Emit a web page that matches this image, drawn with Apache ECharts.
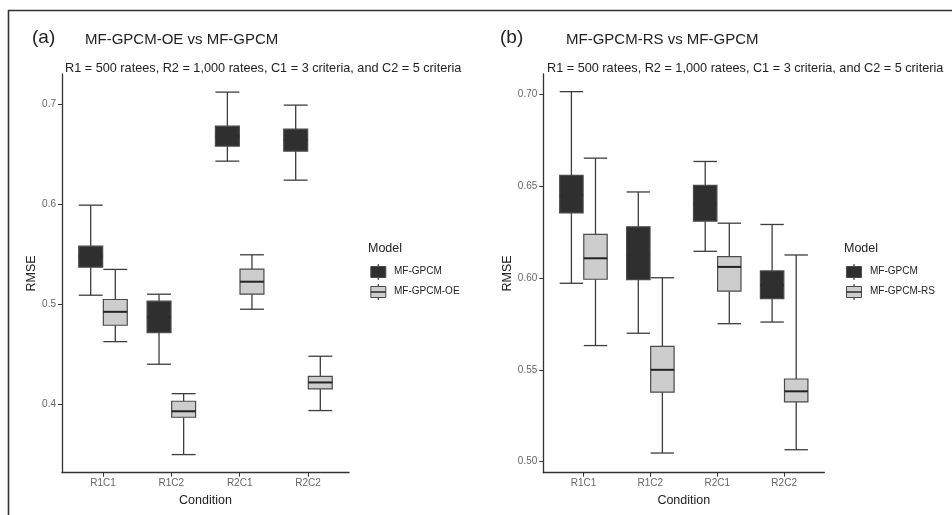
<!DOCTYPE html>
<html>
<head>
<meta charset="utf-8">
<script src="https://cdn.jsdelivr.net/npm/echarts@6/dist/echarts.min.js"></script>
<style>
  html, body { margin: 0; padding: 0; background: #fff; }
  #chart { width: 952px; height: 515px; }
</style>
</head>
<body>
<div id="chart"></div>
<script>
// categories on the x axis
const conditions = ["R1C1", "R1C2", "R2C1", "R2C2"];
// box stats per condition: [lower whisker, Q1, median, Q3, upper whisker]
const oeGpcm = [
  [0.509, 0.537, 0.548, 0.558, 0.599],
  [0.440, 0.4715, 0.487, 0.503, 0.510],
  [0.643, 0.658, 0.668, 0.678, 0.712],
  [0.624, 0.653, 0.664, 0.675, 0.699],
];
const oeModel = [
  [0.4626, 0.479, 0.4924, 0.5047, 0.5348],
  [0.3497, 0.387, 0.393, 0.403, 0.4106],
  [0.495, 0.510, 0.5225, 0.535, 0.5494],
  [0.3937, 0.4153, 0.4218, 0.4278, 0.448],
];
const rsGpcm = [
  [0.5971, 0.6354, 0.645, 0.6558, 0.7014],
  [0.5699, 0.5991, 0.612, 0.6278, 0.6468],
  [0.6145, 0.6309, 0.640, 0.6504, 0.6634],
  [0.576, 0.5887, 0.596, 0.6038, 0.6291],
];
const rsModel = [
  [0.5632, 0.5993, 0.6107, 0.6237, 0.6652],
  [0.5047, 0.5379, 0.55, 0.5628, 0.6001],
  [0.5751, 0.5928, 0.606, 0.6116, 0.6298],
  [0.5065, 0.5325, 0.5383, 0.545, 0.6125],
];
// y tick labels
const ticksA = [0.4, 0.5, 0.6, 0.7];
const ticksB = [0.5, 0.55, 0.6, 0.65, 0.7];

const DARK = "#2f2f2f";
const LIGHT = "#cdcdcd";
const LINE = "#3d3d3d";
const halfW = 0.175;

function toRows(stats) {
  return stats.map((s, i) => [i + 1].concat(s));
}

// draws one ggplot-like box with error bar whiskers
function boxRenderer(offset, fill, medColor) {
  return function (params, api) {
    const x = api.value(0) + offset;
    const lo = api.value(1), q1 = api.value(2), med = api.value(3), q3 = api.value(4), hi = api.value(5);
    const pLo = api.coord([x, lo]);
    const pHi = api.coord([x, hi]);
    const pQ1 = api.coord([x, q1]);
    const pQ3 = api.coord([x, q3]);
    const pMed = api.coord([x, med]);
    const xl = api.coord([x - halfW, q1])[0];
    const xr = api.coord([x + halfW, q1])[0];
    const lineStyle = { stroke: LINE, lineWidth: 1.3 };
    return {
      type: "group",
      children: [
        { type: "line", shape: { x1: pHi[0], y1: pHi[1], x2: pQ3[0], y2: pQ3[1] }, style: lineStyle },
        { type: "line", shape: { x1: pLo[0], y1: pLo[1], x2: pQ1[0], y2: pQ1[1] }, style: lineStyle },
        { type: "line", shape: { x1: xl, y1: pHi[1], x2: xr, y2: pHi[1] }, style: lineStyle },
        { type: "line", shape: { x1: xl, y1: pLo[1], x2: xr, y2: pLo[1] }, style: lineStyle },
        {
          type: "rect",
          shape: { x: xl, y: pQ3[1], width: xr - xl, height: pQ1[1] - pQ3[1] },
          style: { fill: fill, stroke: "#4a4a4a", lineWidth: 1.2 },
        },
        { type: "line", shape: { x1: xl, y1: pMed[1], x2: xr, y2: pMed[1] }, style: { stroke: medColor, lineWidth: 2 } },
      ],
    };
  };
}

function xAxisFor(idx) {
  return {
    type: "value",
    gridIndex: idx,
    min: 0.4,
    max: 4.6,
    axisLine: { show: true, onZero: false, lineStyle: { color: "#333", width: 1.3 } },
    axisTick: { show: true, customValues: [1, 2, 3, 4], length: 4, lineStyle: { color: "#333" } },
    axisLabel: {
      customValues: [1, 2, 3, 4],
      formatter: (v) => conditions[Math.round(v) - 1],
      color: "#666",
      fontSize: 10,
      margin: 6,
    },
    splitLine: { show: false },
    name: "Condition",
    nameLocation: "middle",
    nameGap: 19,
    nameTextStyle: { fontSize: 12.5, color: "#222" },
  };
}

function yAxisFor(idx, min, max, ticks, digits) {
  return {
    type: "value",
    gridIndex: idx,
    min: min,
    max: max,
    axisLine: { show: true, lineStyle: { color: "#333", width: 1.3 } },
    axisTick: { show: true, customValues: ticks, length: 4, lineStyle: { color: "#333" } },
    axisLabel: {
      customValues: ticks,
      formatter: (v) => v.toFixed(digits),
      color: "#666",
      fontSize: 10,
      margin: 6,
    },
    splitLine: { show: false },
    name: "RMSE",
    nameLocation: "middle",
    nameGap: 24,
    nameTextStyle: { fontSize: 12.5, color: "#222" },
  };
}

function legendKeys(x, labelX, second) {
  const kx = x - 7.5, kw = 15;
  const whisk = { stroke: LINE, lineWidth: 1.2 };
  return [
    { type: "text", left: labelX - 26, top: 242, style: { text: "Model", fontSize: 12.5, fill: "#222", fontFamily: "Liberation Sans" } },
    { type: "line", shape: { x1: x, y1: 264, x2: x, y2: 280 }, style: whisk },
    { type: "rect", shape: { x: kx, y: 266.5, width: kw, height: 11 }, style: { fill: DARK, stroke: "#4a4a4a", lineWidth: 1 } },
    { type: "text", left: labelX, top: 266.5, style: { text: "MF-GPCM", fontSize: 10, fill: "#222", fontFamily: "Liberation Sans" } },
    { type: "line", shape: { x1: x, y1: 284, x2: x, y2: 300 }, style: whisk },
    { type: "rect", shape: { x: kx, y: 286.5, width: kw, height: 11 }, style: { fill: LIGHT, stroke: "#4a4a4a", lineWidth: 1 } },
    { type: "line", shape: { x1: kx, y1: 292, x2: kx + kw, y2: 292 }, style: { stroke: "#333", lineWidth: 1.6 } },
    { type: "text", left: labelX, top: 286.5, style: { text: second, fontSize: 10, fill: "#222", fontFamily: "Liberation Sans" } },
  ];
}

const chart = echarts.init(document.getElementById("chart"), null, { renderer: "canvas" });

const option = {
  backgroundColor: "#fff",
  animation: false,
  textStyle: { fontFamily: "Liberation Sans" },
  title: [
    { text: "(a)", left: 32, top: 28, textStyle: { fontSize: 19, fontWeight: "normal", color: "#222" } },
    { text: "MF-GPCM-OE vs MF-GPCM", left: 85, top: 32, textStyle: { fontSize: 15, fontWeight: "normal", color: "#222" } },
    { text: "R1 = 500 ratees, R2 = 1,000 ratees, C1 = 3 criteria, and C2 = 5 criteria", left: 65, top: 62,
      textStyle: { fontSize: 12.7, fontWeight: "normal", color: "#222" } },
    { text: "(b)", left: 500, top: 28, textStyle: { fontSize: 19, fontWeight: "normal", color: "#222" } },
    { text: "MF-GPCM-RS vs MF-GPCM", left: 566, top: 32, textStyle: { fontSize: 15, fontWeight: "normal", color: "#222" } },
    { text: "R1 = 500 ratees, R2 = 1,000 ratees, C1 = 3 criteria, and C2 = 5 criteria", left: 547, top: 62,
      textStyle: { fontSize: 12.7, fontWeight: "normal", color: "#222" } },
  ].map((t) => Object.assign({ padding: 0 }, t)),
  grid: [
    { left: 62, top: 74, width: 287, height: 398.7 },
    { left: 543.3, top: 74, width: 281, height: 398.7 },
  ],
  xAxis: [xAxisFor(0), xAxisFor(1)],
  yAxis: [
    yAxisFor(0, 0.3316, 0.7301, ticksA, 1),
    yAxisFor(1, 0.494, 0.711, ticksB, 2),
  ],
  series: [
    { type: "custom", name: "MF-GPCM", xAxisIndex: 0, yAxisIndex: 0, data: toRows(oeGpcm),
      encode: { x: 0, y: [1, 2, 3, 4, 5] }, renderItem: boxRenderer(-0.18, DARK, DARK) },
    { type: "custom", name: "MF-GPCM-OE", xAxisIndex: 0, yAxisIndex: 0, data: toRows(oeModel),
      encode: { x: 0, y: [1, 2, 3, 4, 5] }, renderItem: boxRenderer(0.18, LIGHT, "#222") },
    { type: "custom", name: "MF-GPCM", xAxisIndex: 1, yAxisIndex: 1, data: toRows(rsGpcm),
      encode: { x: 0, y: [1, 2, 3, 4, 5] }, renderItem: boxRenderer(-0.18, DARK, DARK) },
    { type: "custom", name: "MF-GPCM-RS", xAxisIndex: 1, yAxisIndex: 1, data: toRows(rsModel),
      encode: { x: 0, y: [1, 2, 3, 4, 5] }, renderItem: boxRenderer(0.18, LIGHT, "#222") },
  ],
  graphic: [
    // outer frame of the figure
    { type: "rect", shape: { x: 8.5, y: 10.5, width: 1000, height: 600 }, style: { fill: "none", stroke: "#333", lineWidth: 1.6 }, silent: true },
  ]
    .concat(legendKeys(378.3, 394, "MF-GPCM-OE"))
    .concat(legendKeys(854, 870, "MF-GPCM-RS")),
};

chart.setOption(option);
window.addEventListener("resize", () => chart.resize());
</script>
</body>
</html>
